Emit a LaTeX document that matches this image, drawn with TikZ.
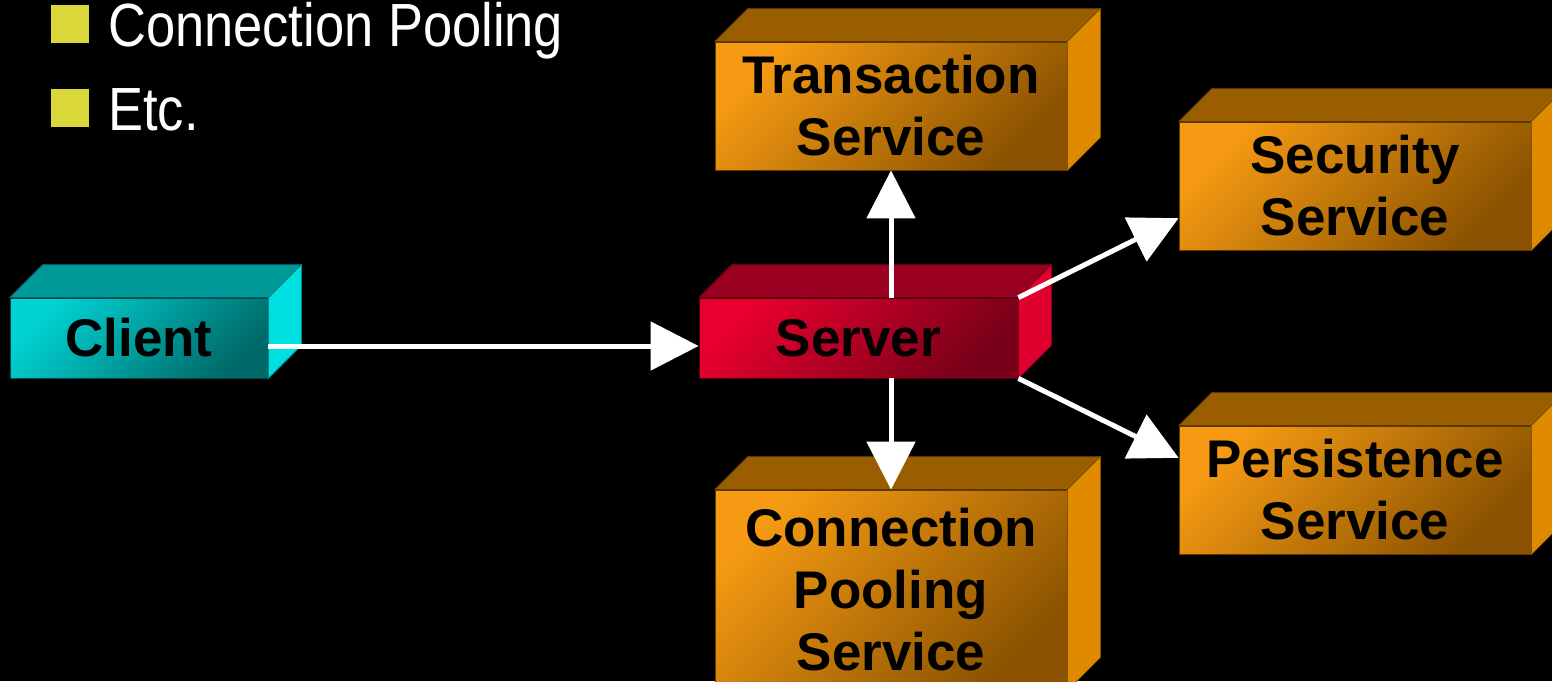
\documentclass[tikz,border=0pt]{standalone}
\usepackage{fontspec}
\setmainfont{Liberation Sans}
\newfontfamily\narrowfont[FakeStretch=0.86]{Liberation Sans}
\usetikzlibrary{arrows.meta,calc}
\definecolor{bulletyellow}{HTML}{DAD83A}
\definecolor{orfrontA}{HTML}{F59A12}
\definecolor{orfrontB}{HTML}{8A5200}
\definecolor{ortop}{HTML}{9A5E00}
\definecolor{orside}{HTML}{E08A00}
\definecolor{cyfrontA}{HTML}{00D2D2}
\definecolor{cyfrontB}{HTML}{006A6A}
\definecolor{cytop}{HTML}{009999}
\definecolor{cyside}{HTML}{00E0E0}
\definecolor{rdfrontA}{HTML}{E8002E}
\definecolor{rdfrontB}{HTML}{780018}
\definecolor{rdtop}{HTML}{9A0020}
\definecolor{rdside}{HTML}{E00030}
\tikzset{
  front/.style 2 args={shade, shading=axis, top color=#1, bottom color=#2, shading angle=45,
     draw=#2!70!black, line width=0.8pt, inner sep=0pt, align=center, text=black,
     font=\fontsize{53}{62}\selectfont\bfseries},
  arr/.style={draw=white, line width=5pt, -{Triangle[length=48pt,width=48pt]}},
  bulletsq/.style={fill=bulletyellow, minimum size=38pt, inner sep=0pt},
  bullettext/.style={anchor=base west, text=white, inner sep=0pt,
     font=\narrowfont\fontsize{61}{70}\selectfont}
}
\newcommand\boxfaces[3]{%
  \path[fill=#2, draw=#2!60!black, line width=0.8pt] (#1.north west) -- ([shift={(33,-33)}]#1.north west)
     -- ([shift={(33,-33)}]#1.north east) -- (#1.north east) -- cycle;
  \path[fill=#3, draw=#3!60!black, line width=0.8pt] (#1.north east) -- ([shift={(33,-33)}]#1.north east)
     -- ([shift={(33,-33)}]#1.south east) -- (#1.south east) -- cycle;
}
\begin{document}
\begin{tikzpicture}[x=1pt,y=-1pt]
\useasboundingbox (0,0) rectangle (1552,681);
\fill[black] (0,0) rectangle (1552,681);
\clip (0,0) rectangle (1552,681);

% bullets
\node[bulletsq] (s1) at (70,24) {};
\node[bulletsq] (s2) at (70,108) {};
\node[bullettext] (b1) at (108,46) {Connection Pooling};
\node[bullettext] (b2) at (108,130) {Etc.};

% boxes
\node[front={cyfrontA}{cyfrontB}, minimum width=258pt, minimum height=80pt] (client) at (139,338) {Client};
\boxfaces{client}{cytop}{cyside}
\node[front={rdfrontA}{rdfrontB}, minimum width=319pt, minimum height=80pt] (server) at (858.5,338) {Server};
\boxfaces{server}{rdtop}{rdside}
\node[front={orfrontA}{orfrontB}, minimum width=352pt, minimum height=128pt] (trans) at (891,106) {Transaction\\Service};
\boxfaces{trans}{ortop}{orside}
\node[front={orfrontA}{orfrontB}, minimum width=352pt, minimum height=128pt] (sec) at (1355,186) {Security\\Service};
\boxfaces{sec}{ortop}{orside}
\node[front={orfrontA}{orfrontB}, minimum width=352pt, minimum height=128pt] (pers) at (1355,490) {Persistence\\Service};
\boxfaces{pers}{ortop}{orside}
\node[front={orfrontA}{orfrontB}, minimum width=352pt, minimum height=200pt] (conn) at (891,590) {Connection\\Pooling\\Service};
\boxfaces{conn}{ortop}{orside}

% arrows
\draw[arr] ([yshift=-8pt]client.east) -- ([yshift=-8pt]server.west);
\draw[arr] (server.north -| trans.south) -- (trans.south);
\draw[arr] (server.south -| conn.north) -- (conn.north);
\draw[arr] (server.north east) -- ($(sec.north west)!0.75!(sec.south west)$);
\draw[arr] (server.south east) -- ($(pers.north west)!0.25!(pers.south west)$);
\end{tikzpicture}
\end{document}
